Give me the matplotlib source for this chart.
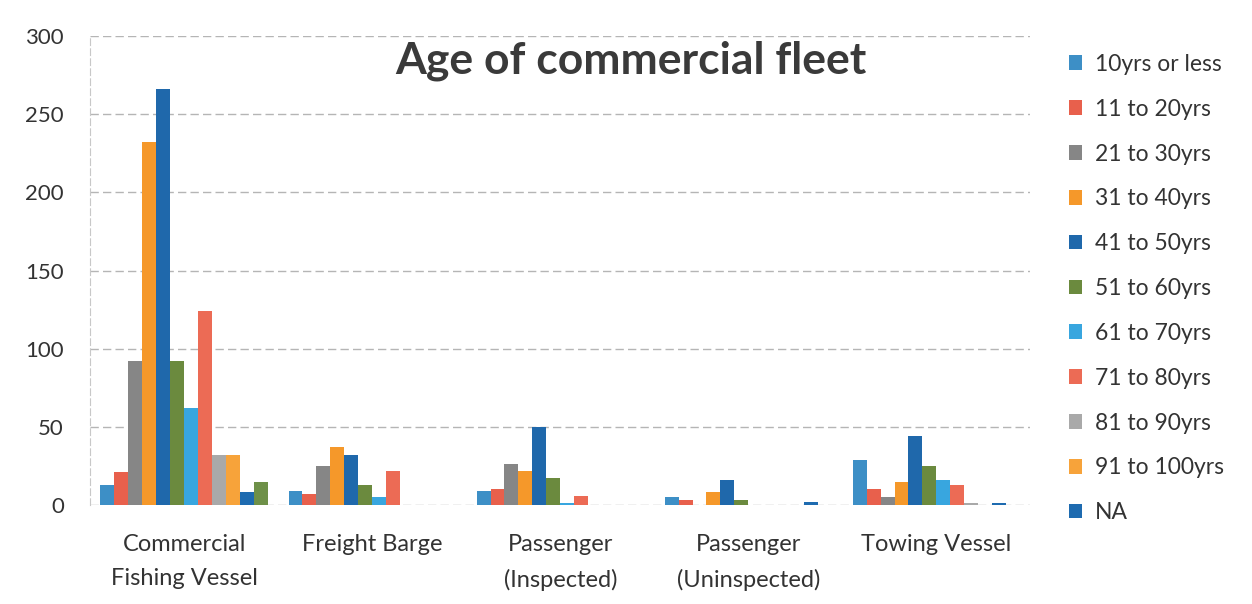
import numpy as np
import matplotlib
matplotlib.use("Agg")
from matplotlib import pyplot as plt

plt.rcParams['font.family'] = ['Lato', 'DejaVu Sans']

categories = ['Commercial\nFishing Vessel', 'Freight Barge', 'Passenger\n(Inspected)',
              'Passenger\n(Uninspected)', 'Towing Vessel']

# 12 bars per group in the picture, only 11 named in its legend
series_labels = ['10yrs or less', '11 to 20yrs', '21 to 30yrs', '31 to 40yrs', '41 to 50yrs',
                 '51 to 60yrs', '61 to 70yrs', '71 to 80yrs', '81 to 90yrs', '91 to 100yrs',
                 'NA', '_unlabeled']

fishing = [13, 21, 92, 232, 266, 92, 62, 124, 32, 32, 8, 15]
barge = [9, 7, 25, 37, 32, 13, 5, 22, 0, 0, 0, 0]
pass_insp = [9, 10, 26, 22, 50, 17, 1.5, 6, 0, 0, 0, 0]
pass_uninsp = [5, 3, 0, 8.5, 16, 3, 0, 0, 0, 0, 2, 0]
towing = [29, 10, 5, 15, 44, 25, 16, 12.5, 1.5, 0, 1.5, 0]

colors = ['#3d8fc6', '#e8604c', '#868686', '#f5982a', '#1f68ab', '#6b8a3e',
          '#38a6df', '#ec6b55', '#a9a9a9', '#f7a33a', '#1e6bb0', '#6e9048']

valores = np.array([fishing, barge, pass_insp, pass_uninsp, towing])  # grupo x serie

fig = plt.figure(figsize=(12.52, 6.04), dpi=100)
ax = fig.add_axes([0.072, 0.164, 0.751, 0.776])

n = len(series_labels)
x = np.arange(len(categories))
w = 0.89 / n
for i in range(n):
    ax.bar(x - 0.445 + w * (i + 0.5), valores[:, i], width=w, color=colors[i],
           label=series_labels[i], zorder=3)

ax.set_xlim(-0.5, len(categories) - 0.5)
ax.set_ylim(0, 300)
ax.set_yticks(np.arange(0, 301, 50))
ax.set_xticks(x)
ax.set_xticklabels(categories, fontsize=17, color='#333333', linespacing=1.75)
ax.tick_params(axis='y', labelsize=16, colors='#333333', length=0, pad=19)
ax.tick_params(axis='x', length=0, pad=21)

ax.grid(axis='y', color='#b5b5b5', linestyle=(0, (6, 3)), linewidth=1, zorder=0)
for s in ['top', 'right', 'bottom']:
    ax.spines[s].set_visible(False)
ax.spines['left'].set_color('#c8c8c8')
ax.spines['left'].set_linestyle((0, (6, 3)))

ax.text(0.575, 0.99, 'Age of commercial fleet', transform=ax.transAxes, ha='center', va='top',
        fontsize=32, fontweight='bold', color='#3a3a3a')

fig.legend(loc='upper left', bbox_to_anchor=(0.837, 0.945), frameon=False, fontsize=16.5,
           handlelength=0.6, handleheight=0.6, handletextpad=0.55, labelspacing=1.04,
           labelcolor='#333333')

fig.savefig('out.png', dpi=100)
